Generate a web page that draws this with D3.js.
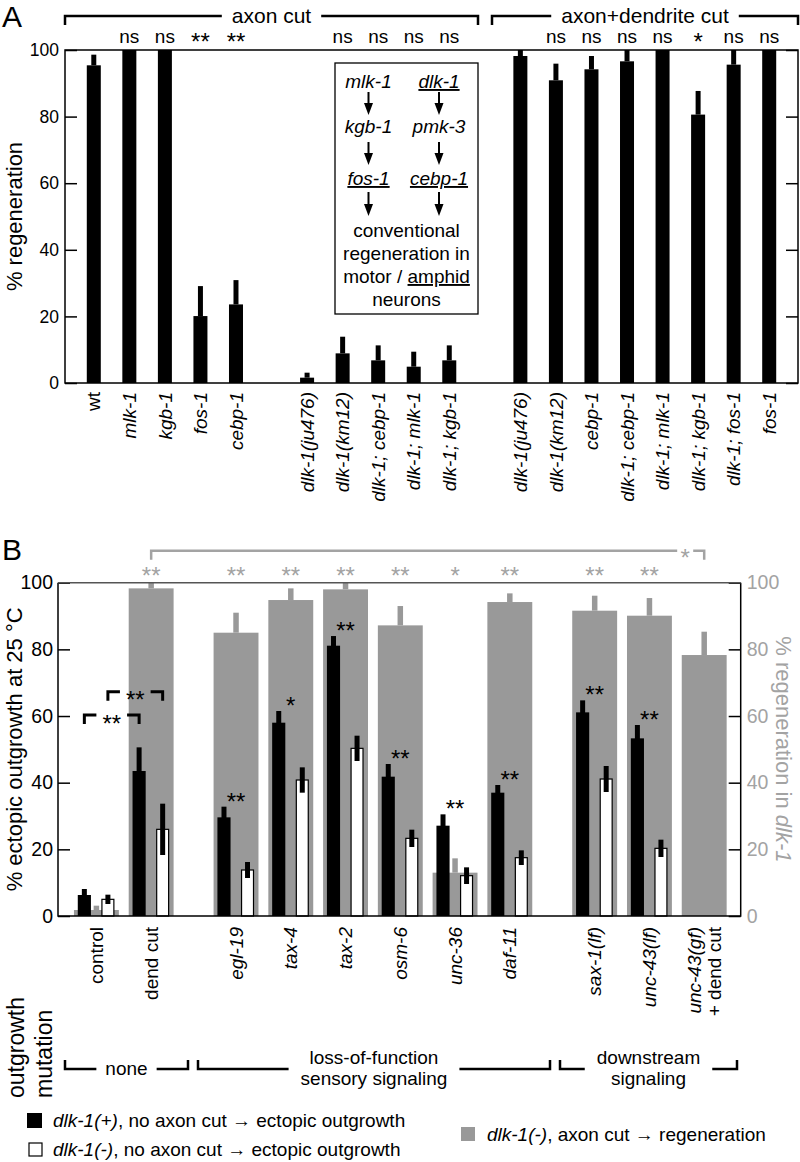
<!DOCTYPE html>
<html><head><meta charset="utf-8">
<script src="https://cdn.jsdelivr.net/npm/d3@7"></script>
<style>
body{margin:0;background:#fff}
text{font-family:"Liberation Sans",Arial,Helvetica,sans-serif}
</style></head><body>
<svg id="c" width="800" height="1162"></svg>
<script>
// ---------------- Panel A data ----------------
const aCats = ["wt","mlk-1","kgb-1","fos-1","cebp-1",
  "dlk-1(ju476)","dlk-1(km12)","dlk-1; cebp-1","dlk-1; mlk-1","dlk-1; kgb-1",
  "dlk-1(ju476)","dlk-1(km12)","cebp-1","dlk-1; cebp-1","dlk-1; mlk-1","dlk-1; kgb-1","dlk-1; fos-1","fos-1"];
const aGroup = [0,0,0,0,0, 1,1,1,1,1, 2,2,2,2,2,2,2,2];
const aValues = [95.4,100,100,20.1,23.6, 1.6,8.9,6.8,4.9,6.8, 98.2,90.9,94.2,96.6,100,80.6,95.6,100];
const aErrors = [3.2,0,0,9,7.3, 1.5,5,4.5,4.5,4.5, 1.8,5,4,3.4,0,7.1,4.4,0];
const aSig = ["","ns","ns","**","**", "","ns","ns","ns","ns", "","ns","ns","ns","ns","*","ns","ns"];
const aTicks = [0,20,40,60,80,100];
const aGroupLabels = ["axon cut","axon+dendrite cut"];

// ---------------- Panel B data ----------------
const bCats = ["control","dend cut","egl-19","tax-4","tax-2","osm-6","unc-36","daf-11","sax-1(lf)","unc-43(lf)","unc-43(gf)"];
const bGroup = [0,0,1,1,1,1,1,1,2,2,2];
const bPlusVal = [6.3,43.5,29.6,58,81.1,41.8,27.1,37,61.1,53.3,null];
const bPlusErr = [1.8,7.1,3.2,3.5,2.9,3.8,3.4,2.3,3.6,4,null];
const bMinusVal = [5,26,13.8,40.8,50.3,23.3,12.1,17.5,41.1,20.3,null];
const bMinusErr = [1.4,7.7,2.4,3.8,3.8,2.6,2.5,2.2,3.9,2.6,null];
const bRegenVal = [1.8,98.3,85,94.8,98,87.2,13,94.2,91.6,90.1,78.3];
const bRegenErr = [1.3,1.7,6,3.5,2,5.8,4.3,2.6,4.5,5.3,7];
const bPlusSig = ["","","**","*","**","**","**","**","**","**",""];
const bRegenSig = ["","**","**","**","**","**","*","**","**","**",""];
const bTicks = [0,20,40,60,80,100];
const bMutGroups = [["none"],["loss-of-function","sensory signaling"],["downstream","signaling"]];

const GRAY = "#999999", GRAYT = "#a3a3a3";
const AST = 24;
const svg = d3.select("#c");
const italicCat = d => !(d==="wt"||d==="control"||d==="dend cut");

// bracket with gap for label
function bracket(g, x1, x2, y, drop, label, color, fs, sw, gapPad, dy) {
  const xm = (x1+x2)/2;
  const t = g.append("text").attr("x",xm).attr("y",y).attr("dy",dy)
    .attr("text-anchor","middle").attr("font-size",fs).attr("fill",color).text(label);
  const w = t.node().getComputedTextLength()/2 + gapPad;
  g.append("path").attr("fill","none").attr("stroke",color).attr("stroke-width",sw)
    .attr("d",`M${x1},${y+drop}V${y}H${xm-w}M${xm+w},${y}H${x2}V${y+drop}`);
  return t;
}

// ================= PANEL A =================
const aTop=50, aBot=383, aL=65, aR=798;
const yA = d3.scaleLinear().domain([0,100]).range([aBot,aTop]);
const aSlot = aCats.map((d,i)=>i+aGroup[i]);
const xA = d3.scaleBand().domain(d3.range(aCats.length + 2)).range([aL,aR]).paddingInner(0.606).paddingOuter(0.613);
const cxA = i => xA(aSlot[i]) + xA.bandwidth()/2;
const gA = svg.append("g");

svg.append("text").attr("x",2).attr("y",27).attr("font-size",30).text("A");

gA.selectAll("rect.bar").data(aValues).join("rect").attr("class","bar")
  .attr("x",(d,i)=>xA(aSlot[i])).attr("width",xA.bandwidth())
  .attr("y",d=>yA(d)).attr("height",d=>aBot-yA(d)).attr("fill","#000");
gA.selectAll("line.err").data(aValues).join("line").attr("class","err")
  .attr("x1",(d,i)=>cxA(i)).attr("x2",(d,i)=>cxA(i))
  .attr("y1",d=>yA(d)).attr("y2",(d,i)=>yA(Math.min(100,d+aErrors[i])))
  .attr("stroke","#000").attr("stroke-width",5);

// axes
gA.append("g").attr("transform",`translate(${aL},0)`)
  .call(d3.axisLeft(yA).tickValues(aTicks).tickSize(-12).tickPadding(6))
  .call(g=>{g.select(".domain").remove();g.selectAll("line").attr("stroke","#000").attr("stroke-width",1.5);
    g.selectAll("text").attr("font-size",17.5).attr("font-family",null).attr("fill","#000");});
gA.append("g").attr("transform",`translate(${aR},0)`)
  .call(d3.axisRight(yA).tickValues(aTicks).tickSize(-12).tickFormat(""))
  .call(g=>{g.select(".domain").remove();g.selectAll("line").attr("stroke","#000").attr("stroke-width",1.5);});
gA.append("rect").attr("x",aL).attr("y",aTop).attr("width",aR-aL).attr("height",aBot-aTop)
  .attr("fill","none").attr("stroke","#000").attr("stroke-width",1.5);

gA.append("text").attr("transform",`translate(14,${(aTop+aBot)/2}) rotate(-90)`)
  .attr("text-anchor","middle").attr("dy","0.35em").attr("font-size",22).text("% regeneration");

// x labels
gA.selectAll("text.xl").data(aCats).join("text").attr("class","xl")
  .attr("transform",(d,i)=>`translate(${cxA(i)},392) rotate(-90)`)
  .attr("text-anchor","end").attr("dy","0.35em").attr("font-size",19)
  .attr("font-style",d=>italicCat(d)?"italic":"normal").text(d=>d);

// significance
gA.selectAll("text.sig").data(aSig).join("text").attr("class","sig")
  .attr("x",(d,i)=>cxA(i)).attr("y",d=>d.includes("*")?50:43)
  .attr("text-anchor","middle").attr("font-size",d=>d.includes("*")?AST:19).text(d=>d);

// group brackets
bracket(gA, aL, 478, 16, 9, aGroupLabels[0], "#000", 21, 2.5, 10, "0.35em");
bracket(gA, 492, aR, 16, 9, aGroupLabels[1], "#000", 21, 2.5, 10, "0.35em");

// inset pathway box
const inset = gA.append("g");
inset.append("rect").attr("x",335).attr("y",63).attr("width",143).attr("height",251)
  .attr("fill","#fff").attr("stroke","#000").attr("stroke-width",1.3);
const colL = 368.5, colR = 439, midX = 406.5;
const pathL = [["mlk-1",false],["kgb-1",false],["fos-1",true]];
const pathR = [["dlk-1",true],["pmk-3",false],["cebp-1",true]];
const rowY = [88,133,185];
[[pathL,colL],[pathR,colR]].forEach(([arr,cx])=>{
  arr.forEach(([name,ul],k)=>{
    inset.append("text").attr("x",cx).attr("y",rowY[k]).attr("text-anchor","middle")
      .attr("font-size",19).attr("font-style","italic")
      .attr("text-decoration",ul?"underline":null).text(name);
  });
  [[92,115],[142,165],[192,216]].forEach(([y1,y2])=>{
    inset.append("line").attr("x1",cx).attr("x2",cx).attr("y1",y1).attr("y2",y2-10)
      .attr("stroke","#000").attr("stroke-width",2);
    inset.append("path").attr("d",`M${cx-4.5},${y2-12}L${cx+4.5},${y2-12}L${cx},${y2}Z`).attr("fill","#000");
  });
});
const conv = ["conventional","regeneration in"];
inset.append("text").attr("x",midX).attr("y",237).attr("text-anchor","middle").attr("font-size",19).text(conv[0]);
inset.append("text").attr("x",midX).attr("y",260).attr("text-anchor","middle").attr("font-size",19).text(conv[1]);
const mt = inset.append("text").attr("x",midX).attr("y",283).attr("text-anchor","middle").attr("font-size",19);
mt.append("tspan").text("motor / ");
mt.append("tspan").attr("text-decoration","underline").text("amphid");
inset.append("text").attr("x",midX).attr("y",306).attr("text-anchor","middle").attr("font-size",19).text("neurons");

// ================= PANEL B =================
const bTop=582.7, bBot=916, bL=58, bR=740.7;
const yB = d3.scaleLinear().domain([0,100]).range([bBot,bTop]);
const bSlot = bCats.map((d,i)=>i + bGroup[i]*0.55);
const xB = d3.scaleLinear().domain([0, d3.max(bSlot)]).range([96.4,704.2]);
const step = xB(1)-xB(0);
const cxB = i => xB(bSlot[i]);
const gB = svg.append("g");
svg.append("text").attr("x",2).attr("y",560).attr("font-size",30).text("B");

const gw = step*0.82, bw = step*0.24, offP = -step*0.22, offM = step*0.21;
// gray regen bars
gB.selectAll("rect.rg").data(bRegenVal).join("rect").attr("class","rg")
  .attr("x",(d,i)=>cxB(i)-gw/2).attr("width",gw).attr("y",d=>yB(d)).attr("height",d=>bBot-yB(d)).attr("fill",GRAY);
gB.selectAll("line.rge").data(bRegenVal).join("line").attr("class","rge")
  .attr("x1",(d,i)=>cxB(i)).attr("x2",(d,i)=>cxB(i)).attr("y1",d=>yB(d))
  .attr("y2",(d,i)=>yB(Math.min(100,d+bRegenErr[i]))).attr("stroke",GRAY).attr("stroke-width",5.5);
// black bars
const plusIdx = d3.range(bCats.length).filter(i=>bPlusVal[i]!=null);
gB.selectAll("rect.pl").data(plusIdx).join("rect").attr("class","pl")
  .attr("x",i=>cxB(i)+offP-bw/2).attr("width",bw).attr("y",i=>yB(bPlusVal[i]))
  .attr("height",i=>bBot-yB(bPlusVal[i])).attr("fill","#000");
gB.selectAll("line.ple").data(plusIdx).join("line").attr("class","ple")
  .attr("x1",i=>cxB(i)+offP).attr("x2",i=>cxB(i)+offP)
  .attr("y1",i=>yB(bPlusVal[i]-bPlusErr[i])).attr("y2",i=>yB(bPlusVal[i]+bPlusErr[i]))
  .attr("stroke","#000").attr("stroke-width",5);
// open bars
gB.selectAll("rect.mi").data(plusIdx).join("rect").attr("class","mi")
  .attr("x",i=>cxB(i)+offM-bw/2+0.6).attr("width",bw-1.2).attr("y",i=>yB(bMinusVal[i]))
  .attr("height",i=>bBot-yB(bMinusVal[i])).attr("fill","#fff").attr("stroke","#000").attr("stroke-width",1.2);
gB.selectAll("line.mie").data(plusIdx).join("line").attr("class","mie")
  .attr("x1",i=>cxB(i)+offM).attr("x2",i=>cxB(i)+offM)
  .attr("y1",i=>yB(bMinusVal[i]-bMinusErr[i])).attr("y2",i=>yB(bMinusVal[i]+bMinusErr[i]))
  .attr("stroke","#000").attr("stroke-width",5);

// axes
gB.append("g").attr("transform",`translate(${bL},0)`)
  .call(d3.axisLeft(yB).tickValues(bTicks).tickSize(-12).tickPadding(5))
  .call(g=>{g.select(".domain").remove();g.selectAll("line").attr("stroke","#000").attr("stroke-width",1.5);
    g.selectAll("text").attr("font-size",19.5).attr("font-family",null).attr("fill","#000");});
gB.append("g").attr("transform",`translate(${bR},0)`)
  .call(d3.axisRight(yB).tickValues(bTicks).tickSize(-12).tickPadding(6))
  .call(g=>{g.select(".domain").remove();g.selectAll("line").attr("stroke","#000").attr("stroke-width",1.5);
    g.selectAll("text").attr("font-size",19.5).attr("font-family",null).attr("fill",GRAYT);});
gB.append("path").attr("fill","none").attr("stroke","#000").attr("stroke-width",1.5)
  .attr("d",`M${bL},${bTop}V${bBot}H${bR}V${bTop}`);
gB.append("line").attr("x1",bL).attr("x2",bR).attr("y1",bTop).attr("y2",bTop).attr("stroke","#555").attr("stroke-width",1.5);

gB.append("text").attr("transform",`translate(14,${(bTop+bBot)/2}) rotate(-90)`)
  .attr("text-anchor","middle").attr("dy","0.35em").attr("font-size",22).text("% ectopic outgrowth at 25 °C");
const rl = gB.append("text").attr("transform",`translate(784,${(bTop+bBot)/2}) rotate(90)`)
  .attr("text-anchor","middle").attr("dy","0.35em").attr("font-size",22).attr("fill",GRAYT);
rl.append("tspan").text("% regeneration in ");
rl.append("tspan").attr("font-style","italic").text("dlk-1");

// x labels
bCats.forEach((d,i)=>{
  if (i===bCats.length-1) {
    [[d,true,-10],["+ dend cut",false,10]].forEach(([t,it,dx])=>{
      gB.append("text").attr("transform",`translate(${cxB(i)+dx},927) rotate(-90)`)
        .attr("text-anchor","end").attr("dy","0.35em").attr("font-size",19)
        .attr("font-style",it?"italic":"normal").text(t);
    });
  } else {
    gB.append("text").attr("transform",`translate(${cxB(i)},927) rotate(-90)`)
      .attr("text-anchor","end").attr("dy","0.35em").attr("font-size",19)
      .attr("font-style",italicCat(d)?"italic":"normal").text(d);
  }
});

// significance
gB.selectAll("text.ps").data(plusIdx).join("text").attr("class","ps")
  .attr("x",i=>cxB(i)).attr("y",i=>yB(bPlusVal[i]+bPlusErr[i])+3)
  .attr("text-anchor","middle").attr("font-size",AST).text(i=>bPlusSig[i]);
gB.selectAll("text.rs").data(bRegenSig).join("text").attr("class","rs")
  .attr("x",(d,i)=>cxB(i)).attr("y",584).attr("text-anchor","middle").attr("font-size",AST)
  .attr("fill",GRAYT).text(d=>d);

// comparison brackets (control vs dend cut)
bracket(gB, cxB(0)+offP, cxB(1)+offP, yB(60.3), 9, "**", "#000", AST, 3, 6, "0.7em");
bracket(gB, cxB(0)+offM, cxB(1)+offM, yB(67.3), 9, "**", "#000", AST, 3, 6, "0.7em");

// gray top bracket dend cut vs unc-43(gf)+dend cut
{
  const x1 = cxB(1), x2 = cxB(10), y = 550.7, st = x2-19;
  gB.append("path").attr("fill","none").attr("stroke",GRAYT).attr("stroke-width",2.5)
    .attr("d",`M${x1},${y+9}V${y}H${st-8}M${st+8},${y}H${x2}V${y+9}`);
  gB.append("text").attr("x",st).attr("y",y).attr("dy","0.62em").attr("text-anchor","middle")
    .attr("font-size",AST).attr("fill",GRAYT).text("*");
}

// mutation group brackets
const gm = svg.append("g");
gm.append("text").attr("transform","translate(16,1098) rotate(-90)").attr("dy","0.35em").attr("font-size",23).text("outgrowth");
gm.append("text").attr("transform","translate(44,1098) rotate(-90)").attr("dy","0.35em").attr("font-size",23).text("mutation");
const mb = [[65,188],[198,550],[560,737]];
mb.forEach(([x1,x2],k)=>{
  const lines = bMutGroups[k], xm=(x1+x2)/2, y=1069;
  const tg = gm.append("text").attr("text-anchor","middle").attr("font-size",19);
  let w;
  if (lines.length===1) {
    tg.attr("x",xm).attr("y",1075).text(lines[0]);
    w = tg.node().getComputedTextLength()/2 + 9;
  } else {
    tg.append("tspan").attr("x",xm).attr("y",1064).text(lines[0]);
    tg.append("tspan").attr("x",xm).attr("y",1085).text(lines[1]);
    w = d3.max(tg.selectAll("tspan").nodes(),n=>n.getComputedTextLength())/2 + 12;
  }
  gm.append("path").attr("fill","none").attr("stroke","#000").attr("stroke-width",2.5)
    .attr("d",`M${x1},${y-9}V${y}H${xm-w}M${xm+w},${y}H${x2}V${y-9}`);
});

// legend
const lg = svg.append("g");
const legItems = [
  {x:27,y:1113,s:15,fill:"#000",stroke:"none",tx:53,ty:1127,it:"dlk-1(+)",rest:", no axon cut → ectopic outgrowth"},
  {x:29,y:1143,s:13,fill:"#fff",stroke:"#000",tx:53,ty:1156,it:"dlk-1(-)",rest:", no axon cut → ectopic outgrowth"},
  {x:461,y:1127,s:14,fill:GRAY,stroke:"none",tx:487,ty:1141,it:"dlk-1(-)",rest:", axon cut → regeneration"}
];
legItems.forEach(d=>{
  lg.append("rect").attr("x",d.x).attr("y",d.y).attr("width",d.s).attr("height",d.s)
    .attr("fill",d.fill).attr("stroke",d.stroke).attr("stroke-width",1.2);
  const t = lg.append("text").attr("x",d.tx).attr("y",d.ty).attr("font-size",19);
  t.append("tspan").attr("font-style","italic").text(d.it);
  t.append("tspan").text(d.rest);
});
</script>
</body></html>
